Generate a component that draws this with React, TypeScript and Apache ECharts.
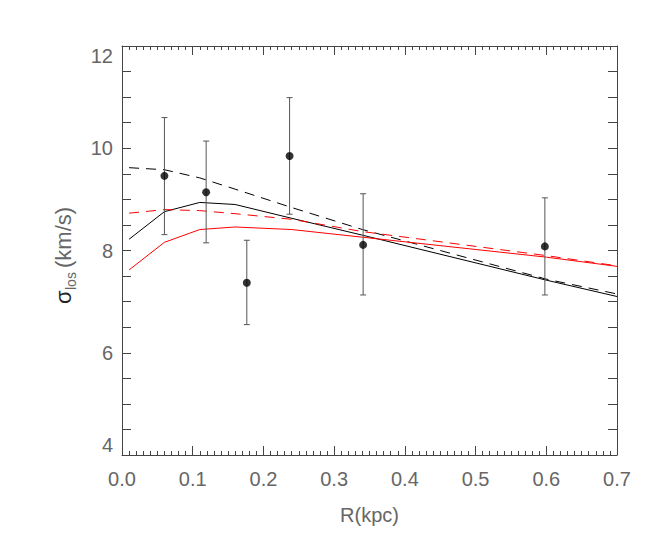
import React, { useEffect, useRef } from "react";
import * as echarts from "echarts";

// Observed data points
const obsR = [0.060, 0.119, 0.1765, 0.237, 0.341, 0.598];
const obsSigma = [9.46, 9.14, 7.37, 9.85, 8.11, 8.08];
const obsLow = [8.31, 8.15, 6.55, 8.71, 7.13, 7.13];
const obsHigh = [10.60, 10.14, 8.20, 10.99, 9.11, 9.03];

// Model curves
const modelR = [0.01, 0.06, 0.11, 0.16, 0.24, 0.34, 0.6, 0.7];
const blackSolid = [8.22, 8.76, 8.94, 8.90, 8.63, 8.30, 7.42, 7.10];
const blackDashed = [9.62, 9.58, 9.42, 9.20, 8.84, 8.41, 7.44, 7.15];
const redDashed = [8.73, 8.80, 8.78, 8.72, 8.61, 8.37, 7.90, 7.70];
const redSolid = [7.62, 8.16, 8.41, 8.46, 8.41, 8.26, 7.87, 7.69];

const xTicks = { min: 0, max: 0.7, interval: 0.1 };
const yTicks = { min: 4, max: 12, interval: 2 };

const FONT = "Liberation Sans";
const TEXT_COLOR = "#666";
const FRAME_COLOR = "#444";

export default function App() {
  const ref = useRef<HTMLDivElement>(null);
  useEffect(() => {
    if (!ref.current) return;
    const chart = echarts.init(ref.current, null, { renderer: "svg" });
    const pair = (xs: number[], ys: number[]) => xs.map((x, i) => [x, ys[i]]);

    const xBase = {
      type: "value",
      min: xTicks.min,
      max: xTicks.max,
      interval: xTicks.interval,
      axisLine: { show: true, onZero: false, lineStyle: { color: FRAME_COLOR, width: 1 } },
      axisTick: { show: true, inside: true, length: 9, lineStyle: { color: FRAME_COLOR } },
      minorTick: { show: true, splitNumber: 10, length: 4, lineStyle: { color: FRAME_COLOR } },
      splitLine: { show: false },
      minorSplitLine: { show: false },
    };
    const yBase = {
      type: "value",
      min: yTicks.min,
      max: yTicks.max,
      interval: yTicks.interval,
      axisLine: { show: true, onZero: false, lineStyle: { color: FRAME_COLOR, width: 1 } },
      axisTick: { show: true, inside: true, length: 9, lineStyle: { color: FRAME_COLOR } },
      minorTick: { show: true, splitNumber: 4, length: 9, lineStyle: { color: FRAME_COLOR } },
      splitLine: { show: false },
      minorSplitLine: { show: false },
    };

    const lineSeries = (name: string, ys: number[], color: string, dashed: boolean) => ({
      name,
      type: "line",
      data: pair(modelR, ys),
      showSymbol: false,
      symbol: "none",
      lineStyle: { color, width: 1, type: dashed ? [10, 7] : "solid" },
      z: 2,
    });

    chart.setOption({
      animation: false,
      backgroundColor: "#fff",
      grid: { left: 122, right: 37, top: 46, bottom: 90, containLabel: false },
      xAxis: [
        {
          ...xBase,
          position: "bottom",
          name: "R(kpc)",
          nameLocation: "middle",
          nameGap: 50,
          nameTextStyle: { fontFamily: FONT, fontSize: 20, color: TEXT_COLOR },
          axisLabel: {
            show: true,
            margin: 14,
            fontFamily: FONT,
            fontSize: 20,
            color: TEXT_COLOR,
            formatter: (v: number) => v.toFixed(1),
          },
        },
        { ...xBase, position: "top", axisLabel: { show: false } },
      ],
      yAxis: [
        {
          ...yBase,
          position: "left",
          axisLabel: {
            show: true,
            margin: 9,
            fontFamily: FONT,
            fontSize: 20,
            color: TEXT_COLOR,
            verticalAlignMinLabel: "bottom",
            verticalAlignMaxLabel: "top",
          },
        },
        { ...yBase, position: "right", axisLabel: { show: false } },
      ],
      graphic: [
        {
          type: "group",
          x: 63,
          y: 304,
          rotation: Math.PI / 2,
          children: [
            {
              type: "text",
              x: 0,
              y: 0,
              style: { text: "σ", fontFamily: FONT, fontSize: 22, fill: "#222", align: "left", verticalAlign: "middle" },
            },
            {
              type: "text",
              x: 14,
              y: 8,
              style: { text: "los", fontFamily: FONT, fontSize: 14, fill: TEXT_COLOR, align: "left", verticalAlign: "middle" },
            },
            {
              type: "text",
              x: 36,
              y: 0,
              style: { text: "(km/s)", fontFamily: FONT, fontSize: 22, fill: TEXT_COLOR, align: "left", verticalAlign: "middle" },
            },
          ],
        },
      ],
      series: [
        lineSeries("black dashed", blackDashed, "#000", true),
        lineSeries("black solid", blackSolid, "#000", false),
        lineSeries("red dashed", redDashed, "#ff0000", true),
        lineSeries("red solid", redSolid, "#ff0000", false),
        {
          name: "error bars",
          type: "custom",
          data: obsR.map((x, i) => [x, obsLow[i], obsHigh[i]]),
          encode: { x: 0, y: [1, 2] },
          z: 3,
          renderItem: (params: any, api: any) => {
            const x = api.value(0);
            const lo = api.coord([x, api.value(1)]);
            const hi = api.coord([x, api.value(2)]);
            const w = 3;
            const style = { stroke: "#555", lineWidth: 1 };
            return {
              type: "group",
              children: [
                { type: "line", shape: { x1: lo[0], y1: lo[1], x2: hi[0], y2: hi[1] }, style },
                { type: "line", shape: { x1: lo[0] - w, y1: lo[1], x2: lo[0] + w, y2: lo[1] }, style },
                { type: "line", shape: { x1: hi[0] - w, y1: hi[1], x2: hi[0] + w, y2: hi[1] }, style },
              ],
            };
          },
        },
        {
          name: "data",
          type: "scatter",
          data: pair(obsR, obsSigma),
          symbol: "circle",
          symbolSize: 8,
          itemStyle: { color: "#000" },
          z: 4,
        },
      ],
    });
    return () => chart.dispose();
  }, []);

  return (
    <div
      ref={ref}
      style={{ position: "fixed", left: 0, top: 0, width: 654, height: 545, background: "#fff" }}
    />
  );
}
